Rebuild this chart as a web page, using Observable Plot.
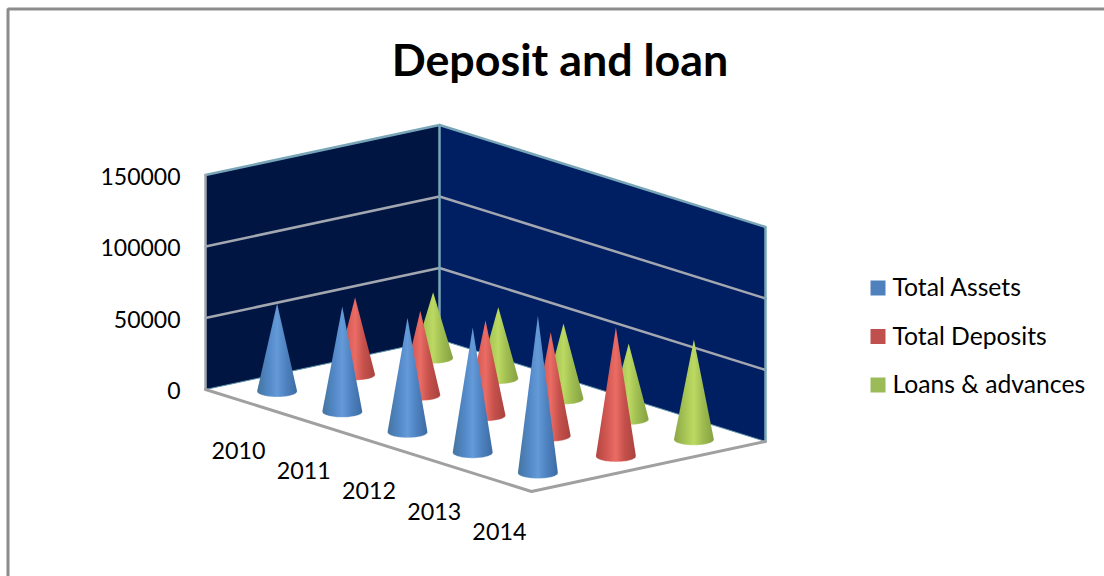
<!DOCTYPE html>
<html>
<head>
<meta charset="utf-8">
<script src="https://cdn.jsdelivr.net/npm/d3@7"></script>
<script src="https://cdn.jsdelivr.net/npm/@observablehq/plot@0.6"></script>
<style>html,body{margin:0;padding:0;background:#fff}svg{display:block}</style>
</head>
<body>
<div id="chart"></div>
<script>
const title = "Deposit and loan";
const years = ["2010", "2011", "2012", "2013", "2014"];
const seriesNames = ["Total Assets", "Total Deposits", "Loans & advances"];
const totalAssets = [61500, 73600, 80000, 87400, 110000];
const totalDeposits = [54000, 59000, 66400, 72500, 90300];
const loansAdvances = [46000, 49800, 52700, 53000, 70000];
const valueTicks = [0, 50000, 100000, 150000];
const seriesValues = [totalAssets, totalDeposits, loansAdvances];
const seriesFills = ["url(#coneBlue)", "url(#coneRed)", "url(#coneGreen)"];
const legendColors = ["#4f81bd", "#c0504d", "#9bbb59"];

// oblique projection of (category, series, value) on the page
const origin = [205, 389];
const catStep = [65.2, 20.4];
const serStep = [78, -16.67];
const pxPerValue = 71.5 / 50000;
const rx = 20, ry = 5.6;
const project = (c, s, v = 0) => [
  origin[0] + c * catStep[0] + s * serStep[0],
  origin[1] + c * catStep[1] + s * serStep[1] - v * pxPerValue
];
const nC = years.length, nS = seriesNames.length, vMax = d3.max(valueTicks);

const poly = pts => pts.map(([x, y]) => ({x, y}));
const wallLeft = poly([project(0,0,0), project(0,nS,0), project(0,nS,vMax), project(0,0,vMax)]);
const wallRight = poly([project(0,nS,0), project(nC,nS,0), project(nC,nS,vMax), project(0,nS,vMax)]);
const floorEdge = poly([project(0,0,0), project(nC,0,0), project(nC,nS,0)]);
const wallTop = poly([project(0,0,vMax), project(0,nS,vMax), project(nC,nS,vMax), project(nC,nS,0)]);
const wallLeftEdge = poly([project(0,0,0), project(0,0,vMax)]);
const spine = poly([project(0,nS,0), project(0,nS,vMax)]);
const wallFoot = poly([project(0,0,0), project(0,nS,0), project(nC,nS,0)]);
const grid = valueTicks.slice(1, -1).flatMap(v => [
  {v, ...poly([project(0,0,v)])[0]},
  {v, ...poly([project(0,nS,v)])[0]},
  {v, ...poly([project(nC,nS,v)])[0]}
]);

// a cone outline: apex, then the lower half of the base ellipse
function rimOf(s, c) {
  const [bx, by] = project(c + 0.5, s + 0.5, 0);
  return d3.range(0, 37).map(i => {
    const a = Math.PI * i / 36;
    return {x: bx + rx * Math.cos(a), y: by + ry * Math.sin(a), id: c};
  });
}
function cone(s, c, v) {
  const [bx, by] = project(c + 0.5, s + 0.5, 0);
  return [{x: bx, y: by - v * pxPerValue, id: c}, ...rimOf(s, c)];
}

const defsMark = () => {
  const ns = "http://www.w3.org/2000/svg";
  const defs = document.createElementNS(ns, "defs");
  const grads = {
    coneBlue: ["#44749f", "#5389c8", "#649ad8", "#4e82c0", "#3c6ba3"],
    coneRed: ["#b34541", "#d65a54", "#ea6c65", "#c5504b", "#a8423e"],
    coneGreen: ["#8ba647", "#a8c756", "#bcd963", "#9fbd50", "#86a143"]
  };
  for (const [id, cols] of Object.entries(grads)) {
    const g = document.createElementNS(ns, "linearGradient");
    g.setAttribute("id", id);
    cols.forEach((col, i) => {
      const st = document.createElementNS(ns, "stop");
      st.setAttribute("offset", [0, 0.3, 0.5, 0.72, 1][i]);
      st.setAttribute("stop-color", col);
      g.appendChild(st);
    });
    defs.appendChild(g);
  }
  return defs;
};

const font = "Lato, 'Open Sans', sans-serif";
const marks = [
  defsMark,
  Plot.line(poly([[7.5,576],[7.5,8.5],[1104,8.5]]), {x:"x", y:"y", stroke:"#8c8c8c", strokeWidth:3, strokeLinejoin:"miter"}),
  Plot.line(wallLeft, {x:"x", y:"y", fill:"#011543", stroke:"none"}),
  Plot.line(wallRight, {x:"x", y:"y", fill:"#001e62", stroke:"none"}),
  Plot.line(grid, {x:"x", y:"y", z:"v", stroke:"#a3a7b0", strokeWidth:2.5}),
  Plot.line(wallTop, {x:"x", y:"y", stroke:"#78a6b8", strokeWidth:2.5}),
  Plot.line(wallFoot, {x:"x", y:"y", stroke:"#5f93ab", strokeWidth:1}),
  Plot.line(spine, {x:"x", y:"y", stroke:"#78a6b8", strokeWidth:2.5}),
  Plot.line(wallLeftEdge, {x:"x", y:"y", stroke:"#a0a8ae", strokeWidth:2.5}),
  Plot.line(floorEdge, {x:"x", y:"y", stroke:"#a0a0a0", strokeWidth:3}),
];
// cones, back row first
for (let s = nS - 1; s >= 0; s--) {
  marks.push(
    Plot.line(seriesValues[s].flatMap((v, c) => cone(s, c, v)),
      {x:"x", y:"y", z:"id", fill: seriesFills[s], stroke:"none"}),
    Plot.line(seriesValues[s].flatMap((v, c) => rimOf(s, c)),
      {x:"x", y:"y", z:"id", stroke:"#fff", strokeOpacity:0.3, strokeWidth:1})
  );
}
marks.push(
  Plot.text(valueTicks, {
    x: v => project(0,0,v)[0] - 25, y: v => project(0,0,v)[1] + 2.5,
    text: v => String(v), textAnchor:"end", fontSize:23, fontFamily:font, fill:"#000"
  }),
  Plot.text(years, {
    x: (d,i) => project(i+0.5,0,0)[0] + 0.5, y: (d,i) => project(i+0.5,0,0)[1] + 51.5,
    text: d => d, fontSize:23.3, fontFamily:font, fill:"#000"
  }),
  Plot.text([title], {x:()=>559.5, y:()=>61, text:d=>d, fontSize:44.8, fontWeight:"bold", fontFamily:font, fill:"#000"}),
  Plot.dot(seriesNames, {x:()=>877.5, y:(d,i)=>287.5+i*48.5, symbol:"square", r:8.46, fill:(d,i)=>legendColors[i], stroke:"none"}),
  Plot.text(seriesNames, {x:()=>892, y:(d,i)=>288+i*48.5, text:d=>d, textAnchor:"start", fontSize:24.7, fontFamily:font, fill:"#000"})
);
const chart = Plot.plot({
  width:1104, height:576, margin:0,
  x:{domain:[0,1104], range:[0,1104], axis:null},
  y:{domain:[0,576], range:[0,576], axis:null},
  style:{background:"#fff"},
  marks
});
document.getElementById("chart").appendChild(chart);
</script>
</body>
</html>
